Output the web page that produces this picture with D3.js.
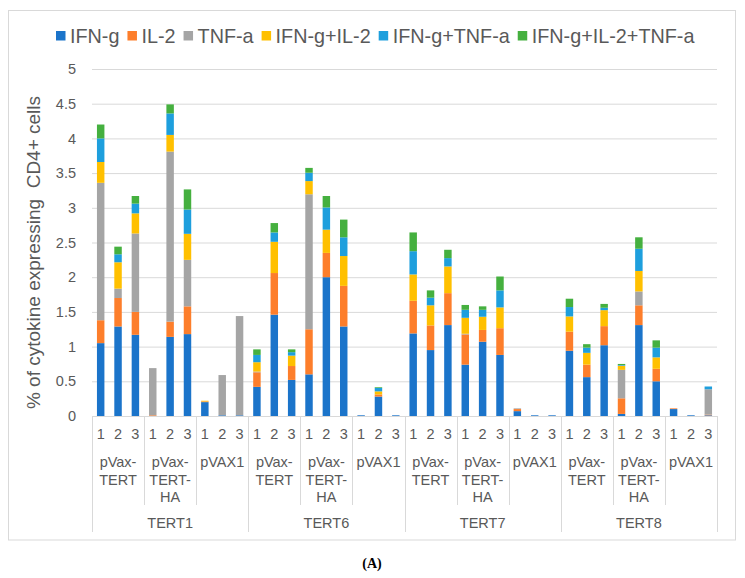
<!DOCTYPE html>
<html>
<head>
<meta charset="utf-8">
<script src="https://cdn.jsdelivr.net/npm/d3@7"></script>
<style>
  html, body { margin: 0; padding: 0; background: #fff; }
  svg { display: block; font-family: "Liberation Sans", Arial, sans-serif; }
</style>
</head>
<body>
<svg id="chart" width="745" height="578"></svg>
<script>
// ---- Data ----
const outerGroups = ["TERT1", "TERT6", "TERT7", "TERT8"];
const subGroups = ["pVax-TERT", "pVax-TERT-HA", "pVAX1"];
const subGroupLines = [["pVax-", "TERT"], ["pVax-", "TERT-", "HA"], ["pVAX1"]];
const reps = ["1", "2", "3"];
const seriesNames = ["IFN-g", "IL-2", "TNF-a", "IFN-g+IL-2", "IFN-g+TNF-a", "IFN-g+IL-2+TNF-a"];
const seriesColors = ["#1b74ca", "#fd7e2b", "#a5a5a5", "#ffc000", "#1e9fdd", "#45b03f"];
const yTicks = [0, 0.5, 1, 1.5, 2, 2.5, 3, 3.5, 4, 4.5, 5];

const ifng = [1.05, 1.29, 1.17, 0, 1.14, 1.18, 0.20, 0.01, 0.01,
              0.42, 1.46, 0.52, 0.60, 2.00, 1.29, 0.01, 0.28, 0.01,
              1.19, 0.95, 1.31, 0.74, 1.07, 0.88, 0.07, 0.01, 0.01,
              0.94, 0.56, 1.02, 0.03, 1.31, 0.50, 0.10, 0.01, 0.01];
const il2 = [0.33, 0.41, 0.33, 0.01, 0.22, 0.40, 0.01, 0, 0,
             0.21, 0.60, 0.20, 0.65, 0.35, 0.585, 0, 0.03, 0,
             0.47, 0.355, 0.46, 0.435, 0.17, 0.385, 0.03, 0, 0,
             0.275, 0.18, 0.275, 0.225, 0.285, 0.18, 0.01, 0, 0.01];
const tnfa = [1.98, 0.135, 1.13, 0.68, 2.45, 0.67, 0, 0.58, 1.43,
              0.01, 0, 0, 1.945, 0, 0, 0, 0, 0,
              0, 0, 0, 0.01, 0, 0, 0.01, 0, 0,
              0, 0, 0, 0.41, 0.20, 0, 0, 0, 0.365];
const ifngIl2 = [0.30, 0.38, 0.29, 0, 0.24, 0.375, 0.01, 0, 0,
                 0.135, 0.45, 0.15, 0.19, 0.335, 0.43, 0, 0.045, 0,
                 0.38, 0.29, 0.385, 0.23, 0.19, 0.30, 0, 0, 0,
                 0.22, 0.17, 0.23, 0.06, 0.295, 0.165, 0, 0, 0];
const ifngTnfa = [0.34, 0.115, 0.14, 0, 0.31, 0.35, 0, 0, 0,
                  0.105, 0.135, 0.05, 0.12, 0.32, 0.27, 0, 0.05, 0,
                  0.335, 0.11, 0.12, 0.115, 0.10, 0.245, 0, 0, 0,
                  0.135, 0.075, 0.035, 0.01, 0.32, 0.14, 0, 0, 0.04];
const triple = [0.20, 0.11, 0.11, 0, 0.13, 0.29, 0, 0, 0,
                0.08, 0.135, 0.04, 0.07, 0.165, 0.255, 0, 0.01, 0,
                0.27, 0.105, 0.12, 0.07, 0.05, 0.20, 0, 0, 0,
                0.12, 0.05, 0.055, 0.015, 0.165, 0.105, 0, 0, 0];

const seriesValues = [ifng, il2, tnfa, ifngIl2, ifngTnfa, triple];

// ---- Build table ----
const rows = [];
outerGroups.forEach((g, gi) => subGroups.forEach((s, si) => reps.forEach((r, ri) => {
  const i = gi * 9 + si * 3 + ri;
  const row = { id: i, outer: g, sub: s, subIdx: gi * 3 + si, rep: r };
  seriesNames.forEach((n, k) => row[n] = seriesValues[k][i]);
  rows.push(row);
})));

const svg = d3.select("#chart");
const textColor = "#595959";
const gridColor = "#d9d9d9";

const plotLeft = 92, plotRight = 717, plotTop = 69, plotBottom = 416;

// chart border
svg.append("rect").attr("x", 8.5).attr("y", 10.5).attr("width", 727).attr("height", 529.5)
  .attr("fill", "none").attr("stroke", gridColor).attr("stroke-width", 1);

const x = d3.scaleBand().domain(rows.map(d => d.id)).range([plotLeft, plotRight]).paddingInner(0.57).paddingOuter(0.285);
const xSub = d3.scaleBand().domain(d3.range(outerGroups.length * subGroups.length)).range([plotLeft, plotRight]);
const xOuter = d3.scaleBand().domain(outerGroups).range([plotLeft, plotRight]);
const y = d3.scaleLinear().domain([0, 5]).range([plotBottom, plotTop]);

// gridlines
const grid = svg.append("g").attr("transform", `translate(${plotLeft},0)`)
  .call(d3.axisLeft(y).tickValues(yTicks).tickSize(-(plotRight - plotLeft)).tickFormat(""));
grid.select(".domain").remove();
grid.selectAll("line").attr("stroke", gridColor).attr("stroke-width", 1);

// y axis labels
const yAxis = svg.append("g").attr("transform", `translate(${plotLeft},0)`)
  .call(d3.axisLeft(y).tickValues(yTicks).tickSize(0).tickPadding(16).tickFormat(d => d));
yAxis.select(".domain").remove();
yAxis.selectAll("text").attr("fill", textColor).style("font-size", "14.5px")
  .style("font-family", "Liberation Sans, Arial, sans-serif");

// stacked bars
const stack = d3.stack().keys(seriesNames);
const stacked = stack(rows);
svg.append("g").selectAll("g").data(stacked).join("g")
  .attr("fill", (d, i) => seriesColors[i])
  .selectAll("rect").data(d => d).join("rect")
  .attr("x", d => x(d.data.id))
  .attr("width", x.bandwidth())
  .attr("y", d => y(d[1]))
  .attr("height", d => Math.max(0, y(d[0]) - y(d[1])));

// x axis: baseline
svg.append("line").attr("x1", plotLeft).attr("x2", plotRight).attr("y1", plotBottom + 0.5).attr("y2", plotBottom + 0.5)
  .attr("stroke", gridColor);

// rep labels
const xAxis = svg.append("g").attr("transform", `translate(0,${plotBottom})`)
  .call(d3.axisBottom(x).tickSize(0).tickPadding(13).tickFormat(i => rows[i].rep));
xAxis.select(".domain").remove();
xAxis.selectAll("text").attr("fill", textColor).style("font-size", "14.5px")
  .style("font-family", "Liberation Sans, Arial, sans-serif");

// sub group separators
const sepG = svg.append("g").attr("stroke", gridColor).attr("stroke-width", 1);
xSub.domain().forEach(k => {
  const xx = Math.round(xSub(k)) + 0.5;
  const isMajor = k % 3 === 0;
  sepG.append("line").attr("x1", xx).attr("x2", xx).attr("y1", plotBottom).attr("y2", isMajor ? 532 : 505);
});
sepG.append("line").attr("x1", plotRight + 0.5).attr("x2", plotRight + 0.5).attr("y1", plotBottom).attr("y2", 532);

// sub group labels
const subLab = svg.append("g").attr("fill", textColor).style("font-size", "14.5px").attr("text-anchor", "middle");
xSub.domain().forEach(k => {
  const lines = subGroupLines[k % 3];
  const cx = xSub(k) + xSub.bandwidth() / 2;
  const t = subLab.append("text").attr("x", cx).attr("y", 467);
  lines.forEach((ln, li) => {
    t.append("tspan").attr("x", cx).attr("dy", li === 0 ? 0 : 17.5).text(ln);
  });
});

// outer group labels
svg.append("g").selectAll("text").data(outerGroups).join("text")
  .attr("x", d => xOuter(d) + xOuter.bandwidth() / 2)
  .attr("y", 528)
  .attr("text-anchor", "middle").attr("fill", textColor).style("font-size", "14.5px")
  .text(d => d);

// y axis title
svg.append("text")
  .attr("transform", `translate(40,${(plotTop + plotBottom) / 2 + 10}) rotate(-90)`)
  .attr("text-anchor", "middle").attr("fill", textColor).style("font-size", "19px")
  .attr("xml:space", "preserve")
  .text("% of cytokine expressing  CD4+ cells");

// legend
const legend = svg.append("g");
let lx = 56;
const ly = 36;
seriesNames.forEach((n, i) => {
  legend.append("rect").attr("x", lx).attr("y", ly - 5).attr("width", 9.5).attr("height", 9.5).attr("fill", seriesColors[i]);
  const t = legend.append("text").attr("x", lx + 14).attr("y", ly + 7).attr("fill", textColor)
    .style("font-size", "19.8px").text(n);
  lx += 14 + t.node().getComputedTextLength() + 8;
});

// panel label
svg.append("text").attr("x", 372).attr("y", 568).attr("text-anchor", "middle")
  .style("font-family", "Liberation Serif, Times New Roman, serif").style("font-weight", "bold")
  .style("font-size", "14px").attr("fill", "#000").text("(A)");
</script>
</body>
</html>
